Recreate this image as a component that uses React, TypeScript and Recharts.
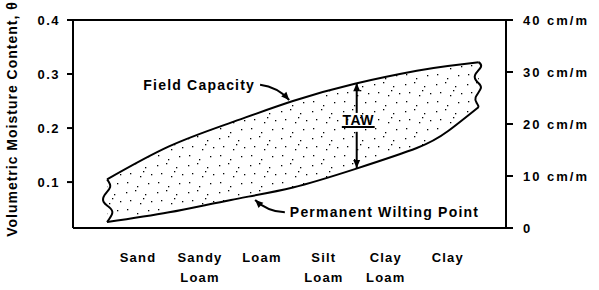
import { ComposedChart, Area, Line, XAxis, YAxis, ReferenceLine } from 'recharts'

const FONT = '"Liberation Sans", Arial, sans-serif'

// soil textures along the x axis (positions 0..5)
const soilTypes = ['Sand', 'Sandy Loam', 'Loam', 'Silt Loam', 'Clay Loam', 'Clay']
const soilPos = [0, 1, 2, 3, 4, 5]

// band of available water
const bandX = [-0.5, 0.5, 1.5, 2.5, 3.5, 4.5, 5.0, 5.5]
const fieldCapacity = [0.105, 0.166, 0.21, 0.25, 0.282, 0.306, 0.315, 0.322]
const wiltingPoint = [0.026, 0.044, 0.067, 0.09, 0.124, 0.163, 0.194, 0.239]

// wavy break lines at both ends of the band
const leftBreakX = [-0.5, -0.45, -0.54, -0.555, -0.47, -0.415, -0.5]
const leftBreakY = [0.105, 0.091, 0.076, 0.063, 0.054, 0.043, 0.026]
const rightBreakX = [5.5, 5.535, 5.44, 5.48, 5.535, 5.45, 5.47, 5.5]
const rightBreakY = [0.322, 0.313, 0.298, 0.285, 0.274, 0.257, 0.246, 0.239]

const thetaTicks = [0.1, 0.2, 0.3, 0.4]
const depthTicks = [0, 10, 20, 30, 40]

const bandData = bandX.map((x, i) => ({ x, band: [wiltingPoint[i], fieldCapacity[i]] }))
const leftBreak = leftBreakX.map((x, i) => ({ x, y: leftBreakY[i] }))
const rightBreak = rightBreakX.map((x, i) => ({ x, y: rightBreakY[i] }))

// stipple dots for the shaded band (x, y inside one tile)
const stippleDots = [
  [2, 3], [11, 1], [21, 5], [27, 12], [6, 11], [16, 14], [24, 21], [3, 20], [13, 24], [19, 9],
]

const textStyle = { fontFamily: FONT, fontWeight: 700, fill: '#000' }

type Seg = { x1?: number; y1?: number; x2?: number; y2?: number }

function headPath(x: number, y: number, fx: number, fy: number) {
  const dx = x - fx
  const dy = y - fy
  const len = Math.hypot(dx, dy) || 1
  const ux = dx / len
  const uy = dy / len
  const bx = x - ux * 8
  const by = y - uy * 8
  return `M${x},${y}L${bx - uy * 3.5},${by + ux * 3.5}L${bx + uy * 3.5},${by - ux * 3.5}Z`
}

const curvedArrow = (bend: number, text: string, side: 'left' | 'right') => (p: Seg) => {
  const { x1 = 0, y1 = 0, x2 = 0, y2 = 0 } = p
  const len = Math.hypot(x2 - x1, y2 - y1) || 1
  const cx = (x1 + x2) / 2 + (bend * (y2 - y1)) / len
  const cy = (y1 + y2) / 2 - (bend * (x2 - x1)) / len
  return (
    <g>
      <path d={`M${x1},${y1}Q${cx},${cy} ${x2},${y2}`} fill="none" stroke="#000" strokeWidth={2} />
      <path d={headPath(x2, y2, cx, cy)} fill="#000" />
      <text
        x={side === 'left' ? x1 - 5 : x1 + 5}
        y={y1 + 5}
        textAnchor={side === 'left' ? 'end' : 'start'}
        fontSize={14}
        letterSpacing={1.2}
        {...textStyle}
      >
        {text}
      </text>
    </g>
  )
}

const straightArrow = (p: Seg) => {
  const { x1 = 0, y1 = 0, x2 = 0, y2 = 0 } = p
  return (
    <g>
      <line x1={x1} y1={y1} x2={x2} y2={y2} stroke="#000" strokeWidth={2} />
      <path d={headPath(x2, y2, x1, y1)} fill="#000" />
    </g>
  )
}

const tawLabel = (p: Seg) => {
  const { x1 = 0, y1 = 0, x2 = 0, y2 = 0 } = p
  return (
    <g>
      <line x1={x1} y1={y1} x2={x2} y2={y2} stroke="#000" strokeWidth={2} />
      <text x={(x1 + x2) / 2} y={y1 - 2} textAnchor="middle" fontSize={14} letterSpacing={0.5} {...textStyle}>
        TAW
      </text>
    </g>
  )
}

const LeftTick = ({ x, y, payload }: any) => (
  <text x={x} y={y} dy={4.5} textAnchor="end" fontSize={13} letterSpacing={1.5} {...textStyle}>
    {payload.value.toFixed(1)}
  </text>
)

const RightTick = ({ x, y, payload }: any) => (
  <text x={x} y={y} dy={4.5} textAnchor="start" fontSize={13} letterSpacing={2} {...textStyle}>
    {payload.value === 0 ? '0' : `${payload.value} cm/m`}
  </text>
)

const SoilTick = ({ x, y, payload }: any) => {
  const words = soilTypes[payload.value].split(' ')
  return (
    <text x={x} y={y} textAnchor="middle" fontSize={13} letterSpacing={1.2} {...textStyle}>
      {words.map((w, i) => (
        <tspan key={w} x={x} dy={i === 0 ? 34 : 20}>
          {w}
        </tspan>
      ))}
    </text>
  )
}

const yTitle = (props: any) => {
  const vb = props.viewBox || { x: 0, y: 20, width: 73, height: 208 }
  const x = vb.x + 17
  const y = vb.y + vb.height / 2 - 5
  return (
    <text x={x} y={y} transform={`rotate(-90, ${x}, ${y})`} textAnchor="middle" fontSize={14} letterSpacing={1} {...textStyle}>
      Volumetric Moisture Content, θ
    </text>
  )
}

export default function App() {
  return (
    <div style={{ position: 'absolute', left: 0, top: 0, background: '#fff' }}>
      <ComposedChart width={599} height={290} data={bandData} margin={{ top: 20, right: 0, bottom: 0, left: 0 }}>
        <defs>
          <pattern id="stipple" width="31" height="27" patternUnits="userSpaceOnUse">
            {stippleDots.map(([dx, dy]) => (
              <rect key={`${dx}-${dy}`} x={dx} y={dy} width="1.3" height="1.3" fill="#000" />
            ))}
          </pattern>
        </defs>
        <XAxis
          dataKey="x"
          type="number"
          domain={[-1.05, 5.94]}
          ticks={soilPos}
          height={62}
          tickLine={false}
          tickSize={0}
          tickMargin={0}
          axisLine={{ stroke: '#000', strokeWidth: 2 }}
          tick={<SoilTick />}
          interval={0}
        />
        <YAxis
          yAxisId="left"
          type="number"
          domain={[0.015, 0.4]}
          ticks={thetaTicks}
          width={73}
          tickSize={6}
          tickMargin={7}
          axisLine={{ stroke: '#000', strokeWidth: 2 }}
          tickLine={{ stroke: '#000', strokeWidth: 2 }}
          tick={<LeftTick />}
          interval={0}
          label={yTitle}
        />
        <YAxis
          yAxisId="right"
          orientation="right"
          type="number"
          domain={[0, 40]}
          allowDataOverflow
          ticks={depthTicks}
          width={93}
          tickSize={7}
          tickMargin={10}
          axisLine={{ stroke: '#000', strokeWidth: 2 }}
          tickLine={{ stroke: '#000', strokeWidth: 2 }}
          tick={<RightTick />}
          interval={0}
        />
        <ReferenceLine yAxisId="left" y={0.4} stroke="#000" strokeWidth={2} />
        <Area
          yAxisId="left"
          dataKey="band"
          type="natural"
          stroke="#000"
          strokeWidth={2}
          fill="url(#stipple)"
          fillOpacity={1}
          dot={false}
          activeDot={false}
          isAnimationActive={false}
        />
        {/* keeps the cm/m axis bound to a series; draws nothing */}
        <Line
          yAxisId="right"
          dataKey="depth"
          stroke="none"
          dot={false}
          activeDot={false}
          legendType="none"
          isAnimationActive={false}
        />
        <Line
          yAxisId="left"
          data={leftBreak}
          dataKey="y"
          type="natural"
          stroke="#000"
          strokeWidth={2}
          dot={false}
          activeDot={false}
          isAnimationActive={false}
        />
        <Line
          yAxisId="left"
          data={rightBreak}
          dataKey="y"
          type="natural"
          stroke="#000"
          strokeWidth={2}
          dot={false}
          activeDot={false}
          isAnimationActive={false}
        />
        <ReferenceLine
          yAxisId="left"
          segment={[{ x: 1.97, y: 0.28 }, { x: 2.44, y: 0.252 }]}
          shape={curvedArrow(6, 'Field Capacity', 'left')}
        />
        <ReferenceLine
          yAxisId="left"
          segment={[{ x: 2.37, y: 0.044 }, { x: 1.89, y: 0.067 }]}
          shape={curvedArrow(6, 'Permanent Wilting Point', 'right')}
        />
        <ReferenceLine yAxisId="left" segment={[{ x: 3.53, y: 0.228 }, { x: 3.53, y: 0.283 }]} shape={straightArrow} />
        <ReferenceLine yAxisId="left" segment={[{ x: 3.53, y: 0.193 }, { x: 3.53, y: 0.126 }]} shape={straightArrow} />
        <ReferenceLine yAxisId="left" segment={[{ x: 3.29, y: 0.202 }, { x: 3.82, y: 0.202 }]} shape={tawLabel} />
      </ComposedChart>
    </div>
  )
}
